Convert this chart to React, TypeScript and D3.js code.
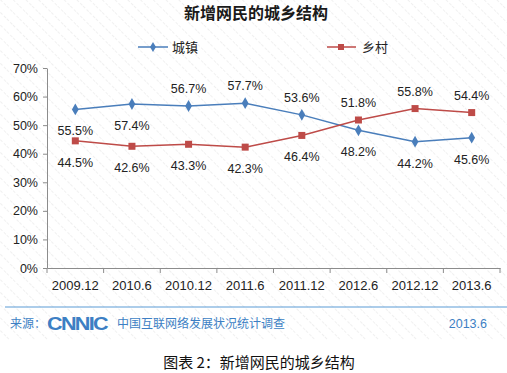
import React, { useEffect, useRef } from "react"
import * as d3 from "d3"

// 新增网民的城乡结构 (CNNIC 2013.6)
const periods = ["2009.12", "2010.6", "2010.12", "2011.6", "2011.12", "2012.6", "2012.12", "2013.6"]
const urban = [55.5, 57.4, 56.7, 57.7, 53.6, 48.2, 44.2, 45.6]
const rural = [44.5, 42.6, 43.3, 42.3, 46.4, 51.8, 55.8, 54.4]
// label above (-1) or below (1) the point
const urbanLabelSide = [1, 1, -1, -1, -1, 1, 1, 1]
const ruralLabelSide = [1, 1, 1, 1, 1, -1, -1, -1]
const yTicks = [0, 10, 20, 30, 40, 50, 60, 70]

const BLUE = "#4a7ebb"
const RED = "#be4b48"
const FONT = "'Liberation Sans', Arial, 'Noto Sans CJK SC', sans-serif"
const CJK = "'Noto Sans CJK SC', sans-serif"

export default function App() {
  const yAxisRef = useRef<SVGGElement>(null)
  const xAxisRef = useRef<SVGGElement>(null)

  const x = d3.scaleBand<string>().domain(periods).range([47, 500])
  const y = d3.scaleLinear().domain([0, 70]).range([268, 68])
  const cx = (p: string) => (x(p) as number) + x.bandwidth() / 2

  useEffect(() => {
    const ya = d3.select(yAxisRef.current!)
    ya.call(
      d3.axisLeft(y).tickValues(yTicks).tickSize(4).tickSizeOuter(0).tickPadding(5)
        .tickFormat((d) => d + "%")
    )
    ya.selectAll("path, line").attr("stroke", "#8c8c8c")
    ya.selectAll("text").attr("font-size", 12.5).attr("font-family", FONT).attr("fill", "#222")

    const xa = d3.select(xAxisRef.current!)
    xa.call(d3.axisBottom(x).tickSize(0).tickSizeOuter(0).tickPadding(13))
    xa.selectAll("path").attr("stroke", "#8c8c8c")
    xa.selectAll("text").attr("font-size", 13).attr("font-family", FONT).attr("fill", "#222")
  }, [])

  const urbanLine = d3.line<number>().x((_, i) => cx(periods[i])).y((d) => y(d))
  const ruralLine = d3.line<number>().x((_, i) => cx(periods[i])).y((d) => y(d))
  const boundaries = periods.map((p) => x(p) as number).concat([x.range()[1]])

  return (
    <svg width={507} height={373} style={{ position: "absolute", left: 0, top: 0, background: "#fff" }}>
      <defs>
        <pattern id="hatch" width="9" height="9" patternUnits="userSpaceOnUse" patternTransform="rotate(-45)">
          <line x1="0" y1="0" x2="0" y2="9" stroke="#ececec" strokeWidth="1.5" strokeDasharray="3 2" />
        </pattern>
      </defs>
      <rect x={0} y={0} width={507} height={340} fill="url(#hatch)" />

      <text x={256} y={19} textAnchor="middle" fontFamily={CJK} fontWeight="bold" fontSize={16} fill="#1a1a1a">
        新增网民的城乡结构
      </text>

      {/* legend */}
      <g fontFamily={CJK} fontSize={13} fill="#222">
        <line x1={138} x2={168} y1={47} y2={47} stroke={BLUE} strokeWidth={1.5} />
        <path d={d3.symbol(d3.symbolDiamond, 30)() as string} transform="translate(153,47)" fill={BLUE} />
        <text x={172} y={52}>城镇</text>
        <line x1={327} x2={356} y1={47} y2={47} stroke={RED} strokeWidth={1.5} />
        <rect x={338} y={44} width={6} height={6} fill={RED} />
        <text x={362} y={52}>乡村</text>
      </g>

      <g ref={yAxisRef} transform="translate(47,0)" />
      <g ref={xAxisRef} transform="translate(0,268)" />
      {boundaries.map((b, i) => (
        <line key={i} x1={b} x2={b} y1={268} y2={273} stroke="#8c8c8c" />
      ))}

      <path d={urbanLine(urban) as string} fill="none" stroke={BLUE} strokeWidth={1.5} />
      <path d={ruralLine(rural) as string} fill="none" stroke={RED} strokeWidth={1.5} />

      {urban.map((v, i) => (
        <path key={"u" + i} d={d3.symbol(d3.symbolDiamond, 40)() as string}
          transform={`translate(${cx(periods[i])},${y(v)})`} fill={BLUE} />
      ))}
      {rural.map((v, i) => (
        <rect key={"r" + i} x={cx(periods[i]) - 3.5} y={y(v) - 3.5} width={7} height={7} fill={RED} />
      ))}

      <g fontFamily={FONT} fontSize={12.5} fill="#222" textAnchor="middle">
        {urban.map((v, i) => (
          <text key={"ul" + i} x={cx(periods[i])} y={y(v) + (urbanLabelSide[i] > 0 ? 26 : -13)}>
            {v.toFixed(1)}%
          </text>
        ))}
        {rural.map((v, i) => (
          <text key={"rl" + i} x={cx(periods[i])} y={y(v) + (ruralLabelSide[i] > 0 ? 26 : -13)}>
            {v.toFixed(1)}%
          </text>
        ))}
      </g>

      {/* footer */}
      <line x1={5} x2={507} y1={307} y2={307} stroke="#5b9bd5" strokeWidth={1} />
      <g fill="#3d7fc4" fontFamily={CJK} fontSize={12}>
        <text x={10} y={328}>来源：</text>
        <text x={47} y={330} fontFamily={FONT} fontWeight="900" fontSize={19} letterSpacing={-1.5}
          textLength={60} lengthAdjust="spacingAndGlyphs">CNNIC</text>
        <text x={117} y={328}>中国互联网络发展状况统计调查</text>
        <text x={487} y={328} textAnchor="end" fontFamily={FONT} fontSize={12.5}>2013.6</text>
      </g>

      <text x={259} y={368} textAnchor="middle" fontFamily={CJK} fontSize={15} fill="#111">
        图表 2：新增网民的城乡结构
      </text>
    </svg>
  )
}
